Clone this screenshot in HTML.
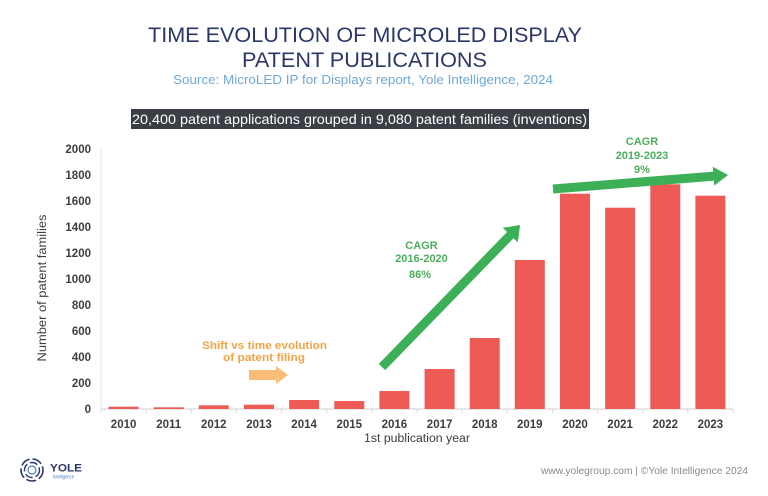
<!DOCTYPE html>
<html><head><meta charset="utf-8"><style>
html,body{margin:0;padding:0;background:#fff;}
svg{display:block;font-family:"Liberation Sans",sans-serif;}
</style></head><body>
<svg width="768" height="496" viewBox="0 0 768 496" xmlns="http://www.w3.org/2000/svg">
<rect width="768" height="496" fill="#fff"/>
<!-- Title -->
<text x="365" y="42" text-anchor="middle" font-size="21" fill="#2b3768" textLength="434" lengthAdjust="spacingAndGlyphs">TIME EVOLUTION OF MICROLED DISPLAY</text>
<text x="364.5" y="67" text-anchor="middle" font-size="21" fill="#2b3768" textLength="245" lengthAdjust="spacingAndGlyphs">PATENT PUBLICATIONS</text>
<text x="363" y="84" text-anchor="middle" font-size="12.5" fill="#6fa8d8" textLength="380" lengthAdjust="spacingAndGlyphs">Source: MicroLED IP for Displays report, Yole Intelligence, 2024</text>
<!-- Banner -->
<rect x="131" y="109" width="458" height="20" fill="#3b3f45"/>
<text x="359.5" y="124" text-anchor="middle" font-size="14" fill="#fff" textLength="455" lengthAdjust="spacingAndGlyphs">20,400 patent applications grouped in 9,080 patent families (inventions)</text>
<!-- Axes -->
<line x1="101" y1="149" x2="101" y2="409" stroke="#e4e4e4" stroke-width="1"/>
<line x1="101" y1="409" x2="733" y2="409" stroke="#d8d8d8" stroke-width="1.2"/>
<g stroke="#d8d8d8" stroke-width="1">
<line x1="101" y1="409" x2="101" y2="413"/><line x1="146.1" y1="409" x2="146.1" y2="413"/><line x1="191.3" y1="409" x2="191.3" y2="413"/><line x1="236.4" y1="409" x2="236.4" y2="413"/><line x1="281.6" y1="409" x2="281.6" y2="413"/><line x1="326.7" y1="409" x2="326.7" y2="413"/><line x1="371.8" y1="409" x2="371.8" y2="413"/><line x1="417" y1="409" x2="417" y2="413"/><line x1="462.1" y1="409" x2="462.1" y2="413"/><line x1="507.3" y1="409" x2="507.3" y2="413"/><line x1="552.4" y1="409" x2="552.4" y2="413"/><line x1="597.5" y1="409" x2="597.5" y2="413"/><line x1="642.7" y1="409" x2="642.7" y2="413"/><line x1="687.8" y1="409" x2="687.8" y2="413"/><line x1="733" y1="409" x2="733" y2="413"/>
</g>
<!-- Y tick labels -->
<g font-size="11.5" font-weight="bold" fill="#3e3e3e" text-anchor="end">
<text x="91" y="153">2000</text><text x="91" y="179">1800</text><text x="91" y="205">1600</text><text x="91" y="231">1400</text><text x="91" y="257">1200</text><text x="91" y="283">1000</text><text x="91" y="309">800</text><text x="91" y="335">600</text><text x="91" y="361">400</text><text x="91" y="387">200</text><text x="91" y="413">0</text>
</g>
<text transform="translate(46,288) rotate(-90)" text-anchor="middle" font-size="11.5" fill="#3e3e3e" textLength="147" lengthAdjust="spacingAndGlyphs">Number of patent families</text>
<!-- Bars -->
<g fill="#ee5a56">
<rect x="108.6" y="406.7" width="30" height="2.3"/>
<rect x="153.7" y="407.3" width="30" height="1.7"/>
<rect x="198.8" y="405.3" width="30" height="3.7"/>
<rect x="244" y="404.7" width="30" height="4.3"/>
<rect x="289.1" y="400" width="30" height="9"/>
<rect x="334.3" y="401" width="30" height="8"/>
<rect x="379.4" y="391" width="30" height="18"/>
<rect x="424.6" y="369" width="30" height="40"/>
<rect x="469.7" y="338" width="30" height="71"/>
<rect x="514.8" y="260" width="30" height="149"/>
<rect x="560" y="193.7" width="30" height="215.3"/>
<rect x="605.1" y="207.7" width="30" height="201.3"/>
<rect x="650.3" y="184.3" width="30" height="224.7"/>
<rect x="695.4" y="195.7" width="30" height="213.3"/>
</g>
<!-- X labels -->
<g font-size="11.5" font-weight="bold" fill="#3e3e3e" text-anchor="middle">
<text x="123.6" y="428">2010</text><text x="168.7" y="428">2011</text><text x="213.8" y="428">2012</text><text x="259" y="428">2013</text><text x="304.1" y="428">2014</text><text x="349.3" y="428">2015</text><text x="394.4" y="428">2016</text><text x="439.6" y="428">2017</text><text x="484.7" y="428">2018</text><text x="529.8" y="428">2019</text><text x="575" y="428">2020</text><text x="620.1" y="428">2021</text><text x="665.3" y="428">2022</text><text x="710.4" y="428">2023</text>
</g>
<text x="417" y="442" text-anchor="middle" font-size="11.5" fill="#3e3e3e" textLength="106" lengthAdjust="spacingAndGlyphs">1st publication year</text>
<!-- Orange annotation -->
<g font-size="11" font-weight="bold" fill="#f2a444" text-anchor="middle">
<text x="264.5" y="349" textLength="125" lengthAdjust="spacingAndGlyphs">Shift vs time evolution</text>
<text x="264" y="361" textLength="82" lengthAdjust="spacingAndGlyphs">of patent filing</text>
</g>
<polygon points="249,370 276,370 276,366 288,375 276,384 276,380 249,380" fill="#f9bd7a"/>
<!-- Green arrows -->
<g transform="translate(382,367) rotate(-45.8)" fill="#3daf57">
<rect x="0" y="-4.5" width="185" height="9"/>
<polygon points="184,-10.5 198,0 184,10.5"/>
</g>
<g transform="translate(553,189) rotate(-4.57)" fill="#3daf57">
<rect x="0" y="-4.5" width="162" height="9"/>
<polygon points="161,-9.5 175.6,0 161,9.5"/>
</g>
<g font-size="11" font-weight="bold" fill="#4cae5c" text-anchor="middle">
<text x="421.5" y="249">CAGR</text>
<text x="421.5" y="262">2016-2020</text>
<text x="420" y="278">86%</text>
<text x="642" y="145">CAGR</text>
<text x="642" y="159">2019-2023</text>
<text x="642" y="173">9%</text>
</g>
<!-- Footer logo -->
<g fill="none" stroke="#2b3768">
<circle cx="32" cy="470" r="11" stroke-width="1.6" stroke-dasharray="10 3"/>
<circle cx="32" cy="470" r="7.5" stroke-width="1.4" stroke-dasharray="8 3"/>
<circle cx="32" cy="470" r="4" stroke-width="1.2" stroke="#4a7fc0"/>
</g>
<text x="50" y="471.5" font-size="11" font-weight="bold" fill="#2b3768" textLength="32" lengthAdjust="spacingAndGlyphs">YOLE</text>
<text x="53" y="478.5" font-size="5" fill="#4a7fc0" textLength="21" lengthAdjust="spacingAndGlyphs">Intelligence</text>
<text x="748" y="474" text-anchor="end" font-size="10" fill="#8a8a8a" textLength="207" lengthAdjust="spacingAndGlyphs">www.yolegroup.com | ©Yole Intelligence 2024</text>
</svg>
</body></html>
